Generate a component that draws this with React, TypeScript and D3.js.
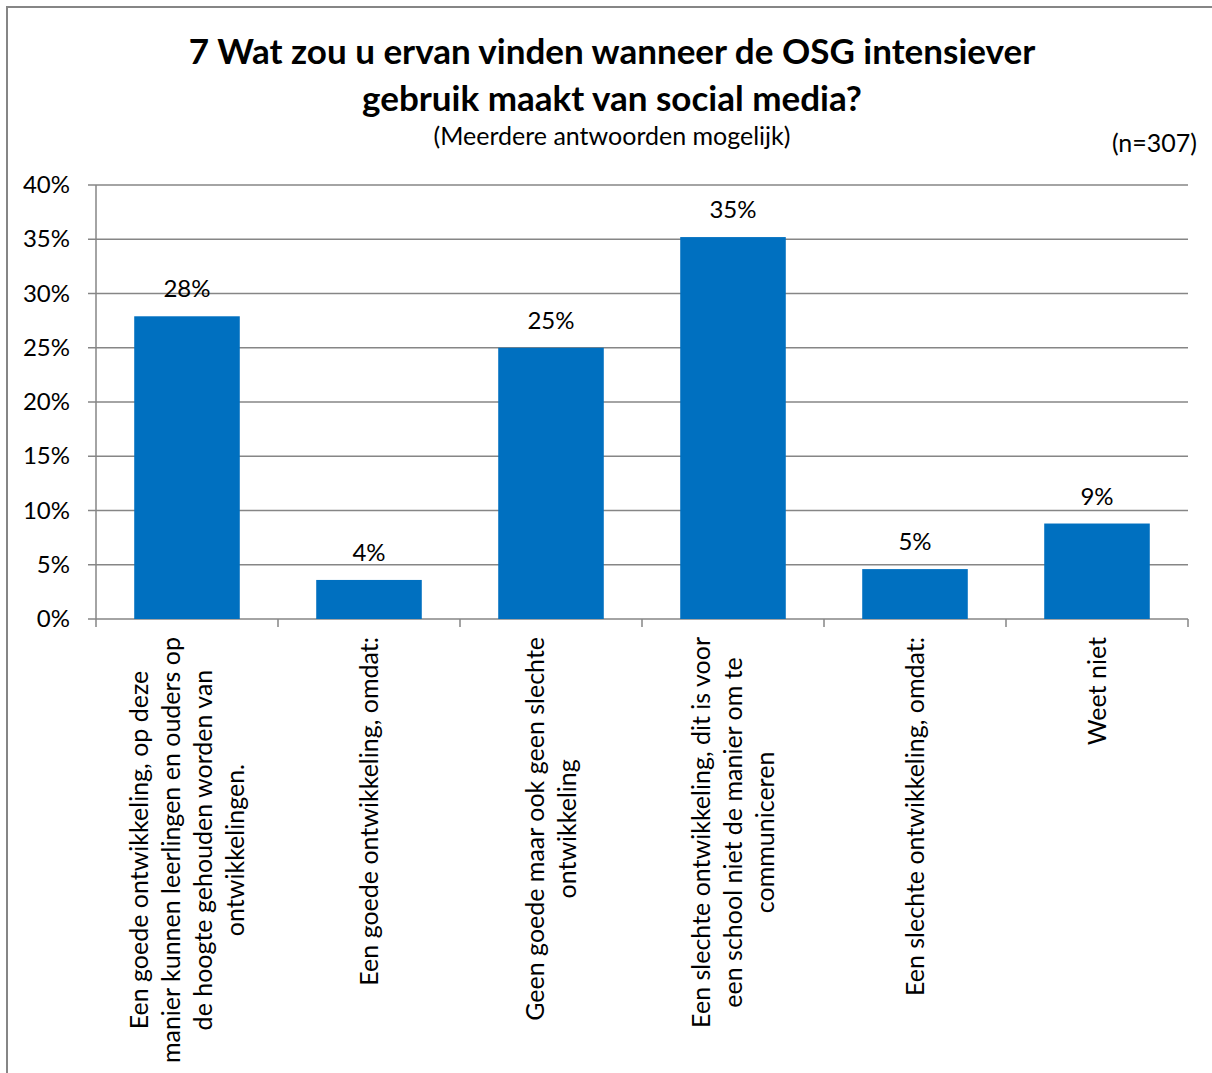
import React, { useEffect, useRef } from "react";
import * as d3 from "d3";

// answer categories (line breaks as in the original chart)
const categories: string[][] = [
  ["Een goede ontwikkeling, op deze", "manier kunnen leerlingen en ouders op", "de hoogte gehouden worden van", "ontwikkelingen."],
  ["Een goede ontwikkeling, omdat:"],
  ["Geen goede maar ook geen slechte", "ontwikkeling"],
  ["Een slechte ontwikkeling, dit is voor", "een school niet de manier om te", "communiceren"],
  ["Een slechte ontwikkeling, omdat:"],
  ["Weet niet"],
];
const values = [27.9, 3.6, 25.0, 35.2, 4.6, 8.8];
const yTicks = [0, 5, 10, 15, 20, 25, 30, 35, 40];

const titleLines = ["7 Wat zou u ervan vinden wanneer de OSG intensiever", "gebruik maakt van social media?"];
const subtitle = "(Meerdere antwoorden mogelijk)";
const nLabel = "(n=307)";

const FONT = "Lato, 'Open Sans', sans-serif";
const BAR = "#0070C0";
const GRID = "#868686";

const App = () => {
  const svgRef = useRef<SVGSVGElement>(null);

  useEffect(() => {
    const W = 1212;
    const H = 1073;
    const svg = d3.select(svgRef.current).attr("width", W).attr("height", H);
    svg.selectAll("*").remove();

    // outer frame (right and bottom edges fall outside the picture)
    svg.append("path")
      .attr("d", `M7,${H}V7H${W}`)
      .attr("fill", "none").attr("stroke", GRID).attr("stroke-width", 2);

    // titles
    titleLines.forEach((t, i) => {
      svg.append("text")
        .attr("x", 612).attr("y", 64 + i * 47)
        .attr("text-anchor", "middle")
        .style("font-family", FONT).style("font-weight", "bold").style("font-size", "35px")
        .text(t);
    });
    svg.append("text")
      .attr("x", 612).attr("y", 145).attr("text-anchor", "middle")
      .style("font-family", FONT).style("font-size", "25px")
      .text(subtitle);
    svg.append("text")
      .attr("x", 1197).attr("y", 152).attr("text-anchor", "end")
      .style("font-family", FONT).style("font-size", "25px")
      .text(nLabel);

    // plot area
    const left = 96, right = 1188, top = 185, bottom = 619;
    const x = d3.scaleBand<number>().domain(d3.range(values.length)).range([left, right]).paddingInner(0.42).paddingOuter(0.21);
    const y = d3.scaleLinear().domain([0, 40]).range([bottom, top]);
    const step = (right - left) / values.length;

    const g = svg.append("g");

    // gridlines
    g.selectAll(".grid").data(yTicks).enter().append("line")
      .attr("x1", left - 8).attr("x2", right)
      .attr("y1", (d) => y(d)).attr("y2", (d) => y(d))
      .attr("stroke", GRID).attr("stroke-width", 1.5);

    // y axis line
    g.append("line").attr("x1", left).attr("x2", left).attr("y1", top).attr("y2", bottom)
      .attr("stroke", GRID).attr("stroke-width", 1.5);

    // x tick marks at category boundaries
    g.selectAll(".xt").data(d3.range(values.length + 1)).enter().append("line")
      .attr("x1", (i) => left + i * step).attr("x2", (i) => left + i * step)
      .attr("y1", bottom).attr("y2", bottom + 8)
      .attr("stroke", GRID).attr("stroke-width", 1.5);

    // y tick labels
    g.selectAll(".yl").data(yTicks).enter().append("text")
      .attr("x", 70).attr("y", (d) => y(d) + 8)
      .attr("text-anchor", "end")
      .style("font-family", FONT).style("font-size", "24px")
      .text((d) => `${d}%`);

    // bars
    g.selectAll(".bar").data(values).enter().append("rect")
      .attr("x", (_, i) => x(i)!)
      .attr("y", (d) => y(d))
      .attr("width", x.bandwidth())
      .attr("height", (d) => bottom - y(d))
      .attr("fill", BAR);

    // value labels
    g.selectAll(".vl").data(values).enter().append("text")
      .attr("x", (_, i) => x(i)! + x.bandwidth() / 2)
      .attr("y", (d) => y(d) - 19)
      .attr("text-anchor", "middle")
      .style("font-family", FONT).style("font-size", "24px")
      .text((d) => `${Math.round(d)}%`);

    // rotated category labels
    const lh = 32;
    categories.forEach((lines, i) => {
      const cx = x(i)! + x.bandwidth() / 2;
      const lg = g.append("g").attr("transform", `translate(${cx},637) rotate(-90)`);
      const texts = lines.map((l, j) =>
        lg.append("text")
          .attr("y", (j - (lines.length - 1) / 2) * lh + 9)
          .attr("text-anchor", "middle")
          .style("font-family", FONT).style("font-size", "25px")
          .text(l)
      );
      const maxW = d3.max(texts, (t) => (t.node() as SVGTextElement).getComputedTextLength()) || 0;
      texts.forEach((t) => t.attr("x", -maxW / 2));
    });
  }, []);

  return (
    <div style={{ position: "absolute", left: 0, top: 0 }}>
      <svg ref={svgRef} style={{ display: "block" }}></svg>
    </div>
  );
};

export default App;
